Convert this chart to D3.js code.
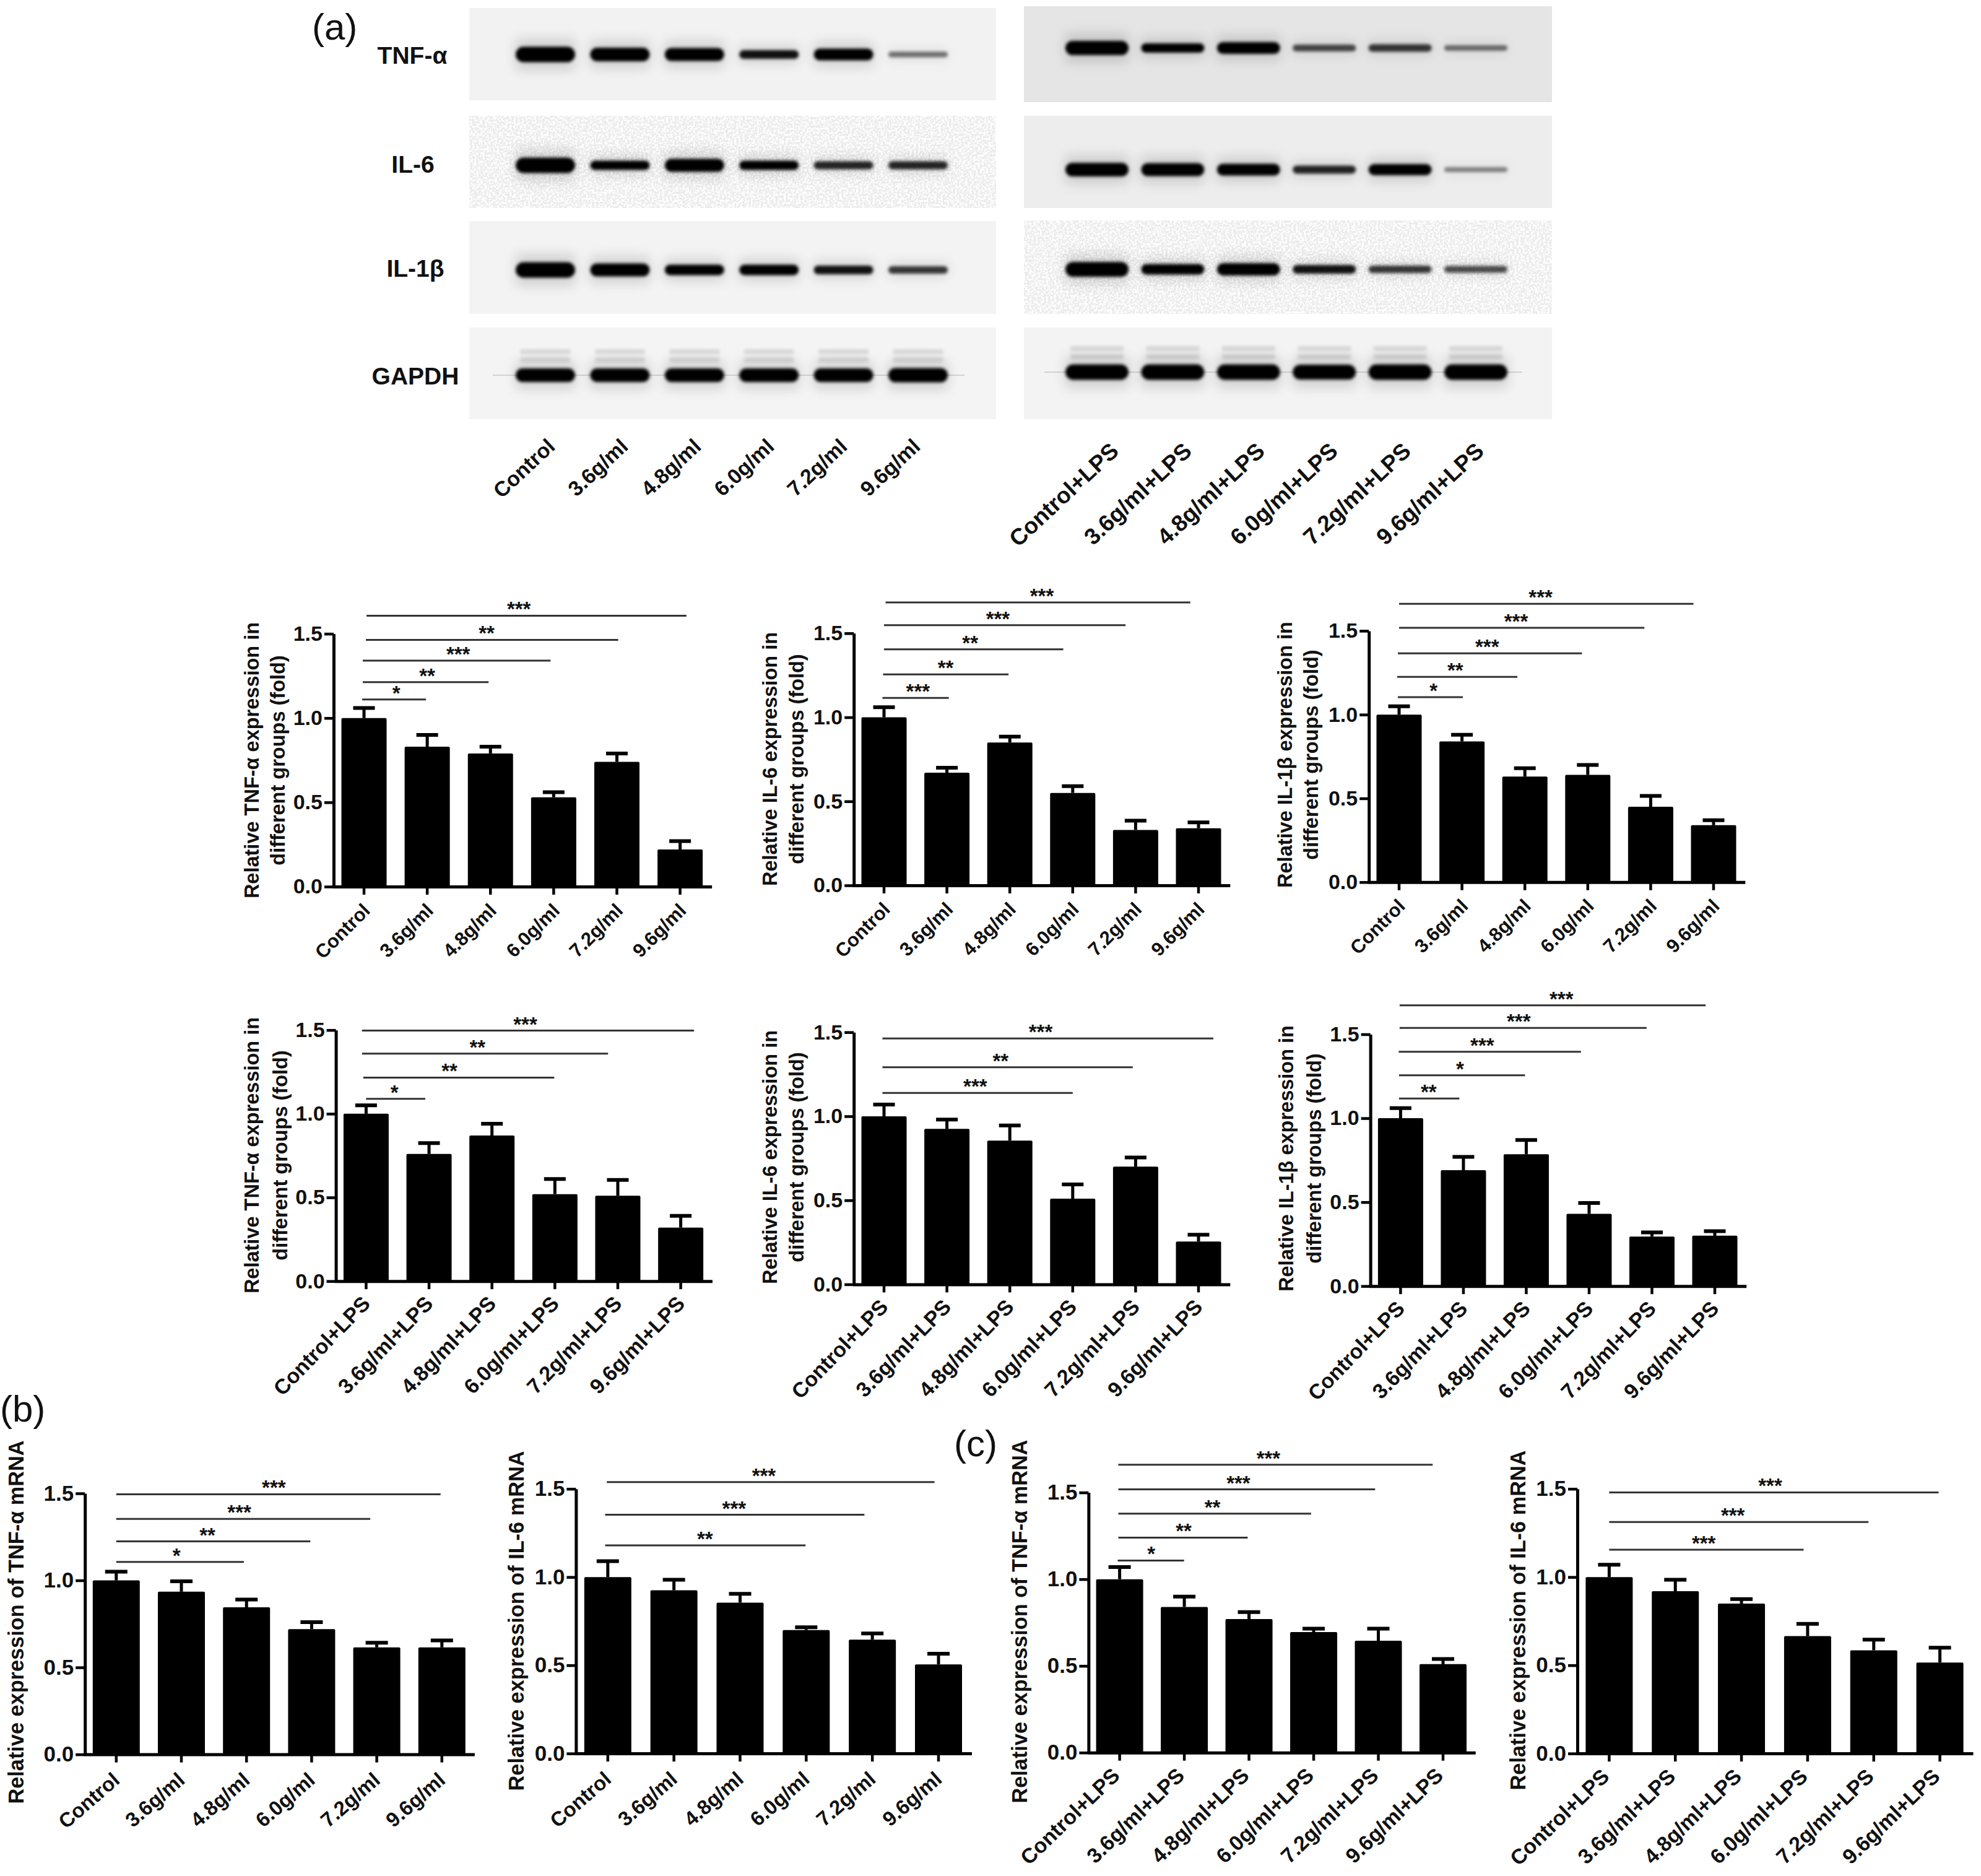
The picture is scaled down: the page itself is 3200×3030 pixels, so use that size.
<!DOCTYPE html>
<html>
<head>
<meta charset="utf-8">
<title>Western blots and bar charts</title>
<script src="https://cdn.jsdelivr.net/npm/d3@7"></script>
<style>
  body { margin: 0; background: #fff; }
  text { font-family: "Liberation Sans", Arial, sans-serif; fill: #111; }
</style>
</head>
<body>
<div id="root"></div>
<script>
//CATEGORIES
const controlGroups = ["Control", "3.6g/ml", "4.8g/ml", "6.0g/ml", "7.2g/ml", "9.6g/ml"];
const lpsGroups = ["Control+LPS", "3.6g/ml+LPS", "4.8g/ml+LPS", "6.0g/ml+LPS", "7.2g/ml+LPS", "9.6g/ml+LPS"];
const yTicks = [0, 0.5, 1.0, 1.5];

//BLOT BAND STRENGTH (0-1), read by eye
const blotCtrlTnf = [1, 0.85, 0.8, 0.45, 0.7, 0.2];
const blotCtrlIl6 = [1, 0.5, 0.8, 0.5, 0.4, 0.4];
const blotCtrlIl1b = [1, 0.8, 0.6, 0.6, 0.45, 0.35];
const blotCtrlGapdh = [0.85, 0.85, 0.85, 0.85, 0.85, 0.9];
const blotLpsTnf = [0.9, 0.5, 0.7, 0.3, 0.35, 0.2];
const blotLpsIl6 = [0.85, 0.8, 0.7, 0.4, 0.65, 0.15];
const blotLpsIl1b = [0.95, 0.6, 0.75, 0.45, 0.35, 0.3];
const blotLpsGapdh = [1, 1, 1, 0.95, 1, 1];

//BAR VALUES + ERRORS
const tnfCtrl = [1, 0.83, 0.79, 0.53, 0.74, 0.22];
const tnfCtrlErr = [0.06, 0.07, 0.04, 0.03, 0.05, 0.05];
const il6Ctrl = [1, 0.67, 0.85, 0.55, 0.33, 0.34];
const il6CtrlErr = [0.06, 0.03, 0.035, 0.04, 0.055, 0.035];
const il1bCtrl = [1, 0.84, 0.63, 0.64, 0.45, 0.34];
const il1bCtrlErr = [0.05, 0.04, 0.05, 0.06, 0.065, 0.03];
const tnfLps = [1, 0.76, 0.87, 0.52, 0.51, 0.32];
const tnfLpsErr = [0.05, 0.065, 0.07, 0.09, 0.095, 0.07];
const il6Lps = [1, 0.925, 0.855, 0.51, 0.7, 0.255];
const il6LpsErr = [0.07, 0.055, 0.09, 0.085, 0.055, 0.04];
const il1bLps = [1, 0.69, 0.785, 0.43, 0.295, 0.3];
const il1bLpsErr = [0.06, 0.08, 0.085, 0.065, 0.025, 0.027];
const tnfMrnaCtrl = [1, 0.935, 0.845, 0.72, 0.615, 0.615];
const tnfMrnaCtrlErr = [0.05, 0.06, 0.045, 0.04, 0.027, 0.04];
const il6MrnaCtrl = [1, 0.925, 0.855, 0.7, 0.645, 0.505];
const il6MrnaCtrlErr = [0.09, 0.06, 0.05, 0.015, 0.035, 0.06];
const tnfMrnaLps = [1, 0.84, 0.77, 0.695, 0.645, 0.51];
const tnfMrnaLpsErr = [0.07, 0.06, 0.04, 0.02, 0.07, 0.03];
const il6MrnaLps = [1, 0.92, 0.85, 0.665, 0.585, 0.515];
const il6MrnaLpsErr = [0.07, 0.065, 0.025, 0.07, 0.06, 0.085];

//SIGNIFICANCE LINES: [from group, to group, y value, stars, group under the stars]
const tnfCtrlSig = [[-0.03, 0.98, 1.11, "*", 0.51], [-0.02, 1.97, 1.213, "**", 1.0], [-0.02, 2.95, 1.341, "***", 1.49], [0.03, 4.02, 1.464, "**", 1.94], [0.04, 5.1, 1.607, "***", 2.45]];
const il6CtrlSig = [[-0.025, 1.03, 1.115, "***", 0.54], [-0.015, 1.98, 1.255, "**", 0.98], [0, 2.85, 1.404, "**", 1.37], [0, 3.84, 1.548, "***", 1.81], [0.025, 4.87, 1.683, "***", 2.51]];
const il1bCtrlSig = [[-0.02, 1.014, 1.104, "*", 0.547], [-0.03, 1.88, 1.225, "**", 0.894], [-0.02, 2.907, 1.366, "***", 1.4], [0, 3.9, 1.518, "***", 1.86], [0, 4.68, 1.661, "***", 2.25]];
const tnfLpsSig = [[0, 0.94, 1.089, "*", 0.45], [-0.045, 2.99, 1.216, "**", 1.325], [-0.065, 3.845, 1.359, "**", 1.77], [-0.065, 5.21, 1.497, "***", 2.53]];
const il6LpsSig = [[-0.025, 3.0, 1.139, "***", 1.45], [-0.025, 3.955, 1.292, "**", 1.854], [-0.025, 5.236, 1.463, "***", 2.49]];
const il1bLpsSig = [[-0.025, 0.935, 1.117, "**", 0.447], [-0.025, 1.98, 1.256, "*", 0.945], [-0.03, 2.87, 1.396, "***", 1.3], [-0.015, 3.915, 1.538, "***", 1.88], [-0.015, 4.854, 1.672, "***", 2.56]];
const tnfMrnaCtrlSig = [[0, 1.96, 1.106, "*", 0.926], [0, 2.98, 1.224, "**", 1.4], [0, 3.9, 1.353, "***", 1.89], [0, 4.98, 1.495, "***", 2.42]];
const il6MrnaCtrlSig = [[-0.04, 2.99, 1.18, "**", 1.47], [-0.04, 3.88, 1.353, "***", 1.91], [-0.015, 4.94, 1.538, "***", 2.36]];
const tnfMrnaLpsSig = [[-0.03, 0.996, 1.108, "*", 0.49], [-0.02, 1.98, 1.24, "**", 0.99], [-0.02, 2.96, 1.378, "**", 1.435], [-0.02, 3.95, 1.518, "***", 1.836], [-0.02, 4.84, 1.66, "***", 2.3]];
const il6MrnaLpsSig = [[0, 2.94, 1.155, "***", 1.43], [0, 3.92, 1.312, "***", 1.87], [0, 4.98, 1.48, "***", 2.435]];

//CREATE SVG
const svg = d3.select("#root").append("svg")
  .attr("width", 3200)
  .attr("height", 3030)
  .style("display", "block");

//FILTERS FOR THE BLOTS
const defs = svg.append("defs");
defs.append("filter").attr("id", "blur").attr("x", "-20%").attr("y", "-100%").attr("width", "140%").attr("height", "300%")
  .append("feGaussianBlur").attr("stdDeviation", 2.6);
defs.append("filter").attr("id", "halo").attr("x", "-30%").attr("y", "-200%").attr("width", "160%").attr("height", "500%")
  .append("feGaussianBlur").attr("stdDeviation", 10);
const speckle = defs.append("filter").attr("id", "speckle").attr("x", 0).attr("y", 0).attr("width", "100%").attr("height", "100%");
speckle.append("feTurbulence").attr("type", "fractalNoise").attr("baseFrequency", 0.3).attr("numOctaves", 2).attr("seed", 4);
speckle.append("feColorMatrix").attr("values", "0 0 0 0 1  0 0 0 0 1  0 0 0 0 1  5 0 0 0 -2.1");

//DRAW ONE BLOT PANEL
function drawBlot(o) {
  const g = svg.append("g");
  g.append("rect").attr("x", o.x0).attr("y", o.top).attr("width", o.x1 - o.x0).attr("height", o.bottom - o.top).attr("fill", o.fill);
  if (o.noisy) {
    g.append("rect").attr("x", o.x0).attr("y", o.top).attr("width", o.x1 - o.x0).attr("height", o.bottom - o.top).attr("filter", "url(#speckle)");
  }
  const lane = d3.scalePoint().domain(o.groups).range(o.lanes);
  const thick = d3.scaleLinear().domain([0, 1]).range([5, 25]);
  const dark = d3.scaleLinear().domain([0, 0.5]).range([0.2, 1]).clamp(true);
  const bands = o.groups.map((name, i) => ({name, v: o.values[i]}));

  //soft halo + band
  g.selectAll(".halo").data(bands).join("rect")
    .attr("x", d => lane(d.name) - o.laneWidth / 2).attr("width", o.laneWidth)
    .attr("y", d => o.cy - thick(d.v)).attr("height", d => thick(d.v) * 2)
    .attr("fill", "#000").attr("opacity", d => dark(d.v) * 0.14).attr("filter", "url(#halo)");
  if (o.ladder) {
    [-38, -25].forEach(off => {
      g.selectAll(null).data(bands).join("rect")
        .attr("x", d => lane(d.name) - o.laneWidth * 0.42).attr("width", o.laneWidth * 0.84)
        .attr("y", o.cy + off - 4).attr("height", 8)
        .attr("fill", "#000").attr("opacity", 0.11).attr("filter", "url(#blur)");
    });
    g.append("line").attr("x1", o.lanes[0] - 85).attr("x2", o.lanes[1] + 75).attr("y1", o.cy).attr("y2", o.cy)
      .attr("stroke", "#999").attr("stroke-width", 1.5).attr("opacity", 0.5);
  }
  g.selectAll(".band").data(bands).join("rect")
    .attr("x", d => lane(d.name) - o.laneWidth / 2).attr("width", o.laneWidth)
    .attr("y", d => o.cy - thick(d.v) / 2).attr("height", d => thick(d.v))
    .attr("rx", d => thick(d.v) / 2)
    .attr("fill", "#000").attr("opacity", d => dark(d.v)).attr("filter", "url(#blur)");
}

const leftLanes = [881, 1483], rightLanes = [1772, 2384];
drawBlot({x0: 758, x1: 1609, top: 13, bottom: 162, cy: 88, fill: "#f2f2f2", groups: controlGroups, values: blotCtrlTnf, lanes: leftLanes, laneWidth: 96});
drawBlot({x0: 758, x1: 1609, top: 187, bottom: 336, cy: 267, fill: "#ebebeb", noisy: true, groups: controlGroups, values: blotCtrlIl6, lanes: leftLanes, laneWidth: 96});
drawBlot({x0: 758, x1: 1609, top: 357, bottom: 507, cy: 436, fill: "#f3f3f3", groups: controlGroups, values: blotCtrlIl1b, lanes: leftLanes, laneWidth: 96});
drawBlot({x0: 758, x1: 1609, top: 529, bottom: 677, cy: 606, fill: "#f4f4f4", ladder: true, groups: controlGroups, values: blotCtrlGapdh, lanes: leftLanes, laneWidth: 96});
drawBlot({x0: 1654, x1: 2507, top: 10, bottom: 165, cy: 77.5, fill: "#e5e5e5", groups: lpsGroups, values: blotLpsTnf, lanes: rightLanes, laneWidth: 102});
drawBlot({x0: 1654, x1: 2507, top: 187, bottom: 336, cy: 274, fill: "#ededed", groups: lpsGroups, values: blotLpsIl6, lanes: rightLanes, laneWidth: 102});
drawBlot({x0: 1654, x1: 2507, top: 356, bottom: 507, cy: 435, fill: "#ebebeb", noisy: true, groups: lpsGroups, values: blotLpsIl1b, lanes: rightLanes, laneWidth: 102});
drawBlot({x0: 1654, x1: 2507, top: 529, bottom: 677, cy: 601, fill: "#f3f3f3", ladder: true, groups: lpsGroups, values: blotLpsGapdh, lanes: rightLanes, laneWidth: 102});

//BLOT NAMES
[["TNF-α", 666, 89], ["IL-6", 667, 265], ["IL-1β", 671, 433], ["GAPDH", 671, 607]].forEach(d => {
  svg.append("text").attr("x", d[1]).attr("y", d[2]).attr("dy", ".36em")
    .attr("text-anchor", "middle").attr("font-weight", "bold").attr("font-size", 39).text(d[0]);
});

//BLOT LANE LABELS
function blotLabels(groups, range, yPos, size) {
  const scale = d3.scalePoint().domain(groups).range(range);
  const g = svg.append("g").attr("transform", `translate(0,${yPos})`)
    .call(d3.axisBottom(scale).tickSize(0));
  g.select(".domain").remove();
  g.selectAll("text")
    .attr("x", 0).attr("y", 0).attr("dy", ".35em")
    .attr("text-anchor", "end").attr("transform", "rotate(-43)")
    .attr("font-family", null).attr("font-size", size).attr("font-weight", "bold");
}
blotLabels(controlGroups, [890, 1480], 715, 34);
blotLabels(lpsGroups, [1800, 2390], 722, 37);

//PANEL LETTERS
[["(a)", 504, 64], ["(b)", 0, 2296], ["(c)", 1541, 2352]].forEach(d => {
  svg.append("text").attr("x", d[1]).attr("y", d[2]).attr("font-size", 60).text(d[0]);
});

//DRAW ONE BAR CHART
function drawBars(o) {
  const step = (o.t5 - o.t0) / 5;
  const inner = 1 - o.bw / step;

  //SCALES
  const x = d3.scaleBand().domain(o.groups)
    .range([o.t0 - step / 2, o.t5 + step / 2])
    .paddingInner(inner).paddingOuter(inner / 2);
  const pos = d3.scaleLinear().domain([0, 5]).range([o.t0, o.t5]);
  const y = d3.scaleLinear().domain([0, 1.5]).range([o.y0, o.y15]);
  const g = svg.append("g");
  const rows = o.groups.map((name, i) => ({name, v: o.means[i], e: o.errs[i]}));
  const mid = d => x(d.name) + x.bandwidth() / 2;

  //ERROR BARS
  g.selectAll(".stem").data(rows).join("line")
    .attr("x1", mid).attr("x2", mid)
    .attr("y1", d => y(d.v)).attr("y2", d => y(d.v + d.e))
    .attr("stroke", "#000").attr("stroke-width", 5);
  g.selectAll(".cap").data(rows).join("line")
    .attr("x1", d => mid(d) - o.cap / 2).attr("x2", d => mid(d) + o.cap / 2)
    .attr("y1", d => y(d.v + d.e)).attr("y2", d => y(d.v + d.e))
    .attr("stroke", "#000").attr("stroke-width", 6);

  //BARS
  g.selectAll(".bar").data(rows).join("rect")
    .attr("x", d => x(d.name)).attr("width", x.bandwidth())
    .attr("y", d => y(d.v)).attr("height", d => y(0) - y(d.v))
    .attr("rx", 2).attr("fill", "#000");

  //AXES
  const yAxis = g.append("g").attr("transform", `translate(${o.t0 - step / 2 + 2},0)`)
    .call(d3.axisLeft(y).tickValues(yTicks).tickFormat(d3.format(".1f")).tickSize(15).tickSizeOuter(0));
  const xAxis = g.append("g").attr("transform", `translate(0,${o.y0})`)
    .call(d3.axisBottom(x).tickSize(13).tickSizeOuter(0));
  [yAxis, xAxis].forEach(a => {
    a.select(".domain").attr("stroke", "#000").attr("stroke-width", 5);
    a.selectAll(".tick line").attr("stroke", "#000").attr("stroke-width", 4.5);
    a.selectAll("text").attr("font-family", null).attr("font-weight", "bold").attr("fill", "#111");
  });
  yAxis.selectAll("text").attr("font-size", o.tickSize).attr("x", -18);
  xAxis.selectAll("text")
    .attr("x", 0).attr("y", 0).attr("dy", ".35em")
    .attr("text-anchor", "end")
    .attr("transform", `translate(${o.labelDx},${o.labelDy}) rotate(${o.angle})`)
    .attr("font-size", o.labelSize);

  //Y TITLE
  o.title.forEach((line, i) => {
    g.append("text")
      .attr("transform", `translate(${o.titleX[i]},${o.titleY}) rotate(-90)`)
      .attr("text-anchor", "middle").attr("dy", ".36em")
      .attr("font-weight", "bold").attr("font-size", o.titleSize)
      .text(line);
  });

  //SIGNIFICANCE LINES
  g.selectAll(".sig").data(o.sig).join("line")
    .attr("x1", d => pos(d[0])).attr("x2", d => pos(d[1]))
    .attr("y1", d => y(d[2])).attr("y2", d => y(d[2]))
    .attr("stroke", "#333").attr("stroke-width", 3);
  g.selectAll(".stars").data(o.sig).join("text")
    .attr("x", d => pos(d[4])).attr("y", d => y(d[2]) + 1)
    .attr("text-anchor", "middle").attr("font-size", 33).attr("font-weight", "bold")
    .attr("fill", "#222").text(d => d[3]);
}

const proteinCtrl = {groups: controlGroups, bw: 73, cap: 35, tickSize: 34, labelSize: 31, labelDx: 4, labelDy: 33, angle: -45, titleSize: 32.5};
const proteinLps = {groups: lpsGroups, bw: 73, cap: 35, tickSize: 34, labelSize: 34, labelDx: 0, labelDy: 30, angle: -46, titleSize: 32.5};
const mrnaCtrl = {groups: controlGroups, bw: 76, cap: 36, tickSize: 35, labelSize: 33, labelDx: 0, labelDy: 36, angle: -41, titleSize: 34.3};
const mrnaLps = {groups: lpsGroups, bw: 76, cap: 36, tickSize: 35, labelSize: 34, labelDx: -6, labelDy: 31, angle: -44, titleSize: 34.3};

drawBars({...proteinCtrl, means: tnfCtrl, errs: tnfCtrlErr, sig: tnfCtrlSig, t0: 588, t5: 1098.6, y15: 1023.6, y0: 1432,
  title: ["Relative TNF-α expression in", "different groups (fold)"], titleX: [406, 448], titleY: 1228});
drawBars({...proteinCtrl, means: il6Ctrl, errs: il6CtrlErr, sig: il6CtrlSig, t0: 1428, t5: 1936, y15: 1022.8, y0: 1430,
  title: ["Relative IL-6 expression in", "different groups (fold)"], titleX: [1243, 1286], titleY: 1226});
drawBars({...proteinCtrl, means: il1bCtrl, errs: il1bCtrlErr, sig: il1bCtrlSig, t0: 2260, t5: 2768, y15: 1018.9, y0: 1424.8,
  title: ["Relative IL-1β expression in", "different groups (fold)"], titleX: [2075, 2117], titleY: 1219});
drawBars({...proteinLps, means: tnfLps, errs: tnfLpsErr, sig: tnfLpsSig, t0: 591.4, t5: 1099.6, y15: 1663.7, y0: 2069.2,
  title: ["Relative TNF-α expression in", "different groups (fold)"], titleX: [406, 452], titleY: 1866});
drawBars({...proteinLps, means: il6Lps, errs: il6LpsErr, sig: il6LpsSig, t0: 1428, t5: 1936, y15: 1667.2, y0: 2074.4,
  title: ["Relative IL-6 expression in", "different groups (fold)"], titleX: [1243, 1286], titleY: 1869});
drawBars({...proteinLps, means: il1bLps, errs: il1bLpsErr, sig: il1bLpsSig, t0: 2262.4, t5: 2770, y15: 1670.5, y0: 2077.2,
  title: ["Relative IL-1β expression in", "different groups (fold)"], titleX: [2077, 2122], titleY: 1871});
drawBars({...mrnaCtrl, means: tnfMrnaCtrl, errs: tnfMrnaCtrlErr, sig: tnfMrnaCtrlSig, t0: 187.8, t5: 713.8, y15: 2412, y0: 2833.6,
  title: ["Relative expression of TNF-α mRNA"], titleX: [25.5], titleY: 2620});
drawBars({...mrnaCtrl, means: il6MrnaCtrl, errs: il6MrnaCtrlErr, sig: il6MrnaCtrlSig, t0: 981.8, t5: 1516, y15: 2404.7, y0: 2832.1,
  title: ["Relative expression of IL-6 mRNA"], titleX: [833.4], titleY: 2618});
drawBars({...mrnaLps, means: tnfMrnaLps, errs: tnfMrnaLpsErr, sig: tnfMrnaLpsSig, t0: 1808.6, t5: 2331, y15: 2410.6, y0: 2830.7,
  title: ["Relative expression of TNF-α mRNA"], titleX: [1647], titleY: 2619});
drawBars({...mrnaLps, means: il6MrnaLps, errs: il6MrnaLpsErr, sig: il6MrnaLpsSig, t0: 2599.4, t5: 3133.6, y15: 2404.7, y0: 2832.1,
  title: ["Relative expression of IL-6 mRNA"], titleX: [2451.4], titleY: 2617});
</script>
</body>
</html>
